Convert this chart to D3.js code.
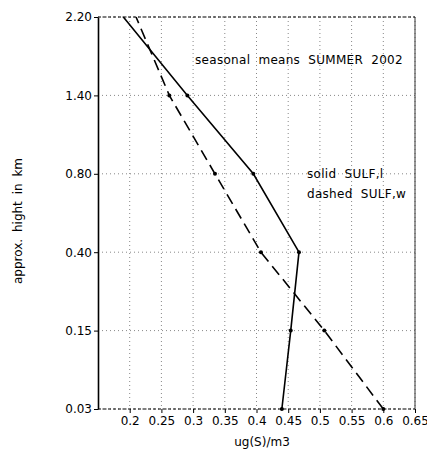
<!DOCTYPE html>
<html>
<head>
<meta charset="utf-8">
<script src="https://cdn.jsdelivr.net/npm/d3@7"></script>
<style>
  html, body { margin: 0; padding: 0; background: #fff; }
  svg { display: block; }
  text { font-family: "DejaVu Sans", "Liberation Sans", sans-serif; fill: #000; }
</style>
</head>
<body>
<svg id="chart" width="427" height="449"></svg>
<script>
// Height levels (km), bottom to top
const levels = ["0.03", "0.15", "0.40", "0.80", "1.40", "2.20"];
// Seasonal mean concentrations, ug(S)/m3
const sulfL = [0.44, 0.454, 0.467, 0.395, 0.291, 0.19];
const sulfW = [0.60, 0.507, 0.407, 0.3345, 0.2625, 0.21];
const xTicks = [0.2, 0.25, 0.3, 0.35, 0.4, 0.45, 0.5, 0.55, 0.6, 0.65];

const svg = d3.select("#chart");
const L = 98, R = 415, T = 17, B = 409;

const x = d3.scaleLinear().domain([0.15, 0.65]).range([L, R]);
const y = d3.scalePoint().domain(levels).range([B, T]);

// dotted grid
const grid = svg.append("g").attr("stroke", "#888").attr("stroke-width", 1)
  .attr("stroke-dasharray", "1,3");
xTicks.forEach(t => {
  grid.append("line").attr("x1", x(t)).attr("x2", x(t)).attr("y1", T).attr("y2", B);
});
levels.forEach(l => {
  grid.append("line").attr("x1", L).attr("x2", R).attr("y1", y(l)).attr("y2", y(l));
});

// frame
svg.append("line").attr("x1", L).attr("x2", R).attr("y1", T).attr("y2", T)
  .attr("stroke", "#000").attr("stroke-width", 1.2).attr("stroke-dasharray", "3,2");
svg.append("line").attr("x1", L).attr("x2", R).attr("y1", B).attr("y2", B)
  .attr("stroke", "#000").attr("stroke-width", 1.2).attr("stroke-dasharray", "3,2");
svg.append("line").attr("x1", R).attr("x2", R).attr("y1", T).attr("y2", B)
  .attr("stroke", "#333").attr("stroke-width", 1);

// axes
const xAxis = d3.axisBottom(x).tickValues(xTicks).tickSize(4).tickSizeOuter(0)
  .tickFormat(d => String(d));
const gx = svg.append("g").attr("transform", `translate(0,${B})`).call(xAxis);
gx.select(".domain").remove();
gx.selectAll(".tick line").attr("stroke", "#000");
gx.selectAll(".tick text").attr("y", 7).attr("font-size", 12);

const yAxis = d3.axisLeft(y).tickSize(4).tickSizeOuter(0);
const gy = svg.append("g").attr("transform", `translate(${L},0)`).call(yAxis);
gy.select(".domain").attr("stroke", "#000").attr("stroke-width", 1.6);
gy.selectAll(".tick line").attr("stroke", "#000");
gy.selectAll(".tick text").attr("x", -6).attr("font-size", 12);

// profiles
const line = d3.line().x(d => x(d[0])).y(d => y(d[1]));
const ptsL = sulfL.map((v, i) => [v, levels[i]]);
const ptsW = sulfW.map((v, i) => [v, levels[i]]);

svg.append("path").attr("d", line(ptsL)).attr("fill", "none")
  .attr("stroke", "#000").attr("stroke-width", 1.6);
svg.append("path").attr("d", line(ptsW)).attr("fill", "none")
  .attr("stroke", "#000").attr("stroke-width", 1.6).attr("stroke-dasharray", "11,6");

[ptsL, ptsW].forEach(pts => {
  svg.append("g").selectAll("circle").data(pts.slice(0, 5)).join("circle")
    .attr("cx", d => x(d[0])).attr("cy", d => y(d[1])).attr("r", 2).attr("fill", "#000");
});

// annotations
svg.append("text").attr("x", 195).attr("y", 64).attr("font-size", 12)
  .attr("word-spacing", 4).attr("letter-spacing", 0.3)
  .text("seasonal means SUMMER 2002");
svg.append("text").attr("x", 307).attr("y", 178).attr("font-size", 12)
  .attr("word-spacing", 4).attr("letter-spacing", 0.3).text("solid SULF,l");
svg.append("text").attr("x", 307).attr("y", 198).attr("font-size", 12)
  .attr("word-spacing", 4).attr("letter-spacing", 0.3).text("dashed SULF,w");

// axis titles
svg.append("text").attr("x", 262).attr("y", 446).attr("text-anchor", "middle")
  .attr("font-size", 12).text("ug(S)/m3");
svg.append("text").attr("transform", "translate(22,221) rotate(-90)")
  .attr("text-anchor", "middle").attr("font-size", 12).attr("word-spacing", 3)
  .text("approx. hight in km");
</script>
</body>
</html>
